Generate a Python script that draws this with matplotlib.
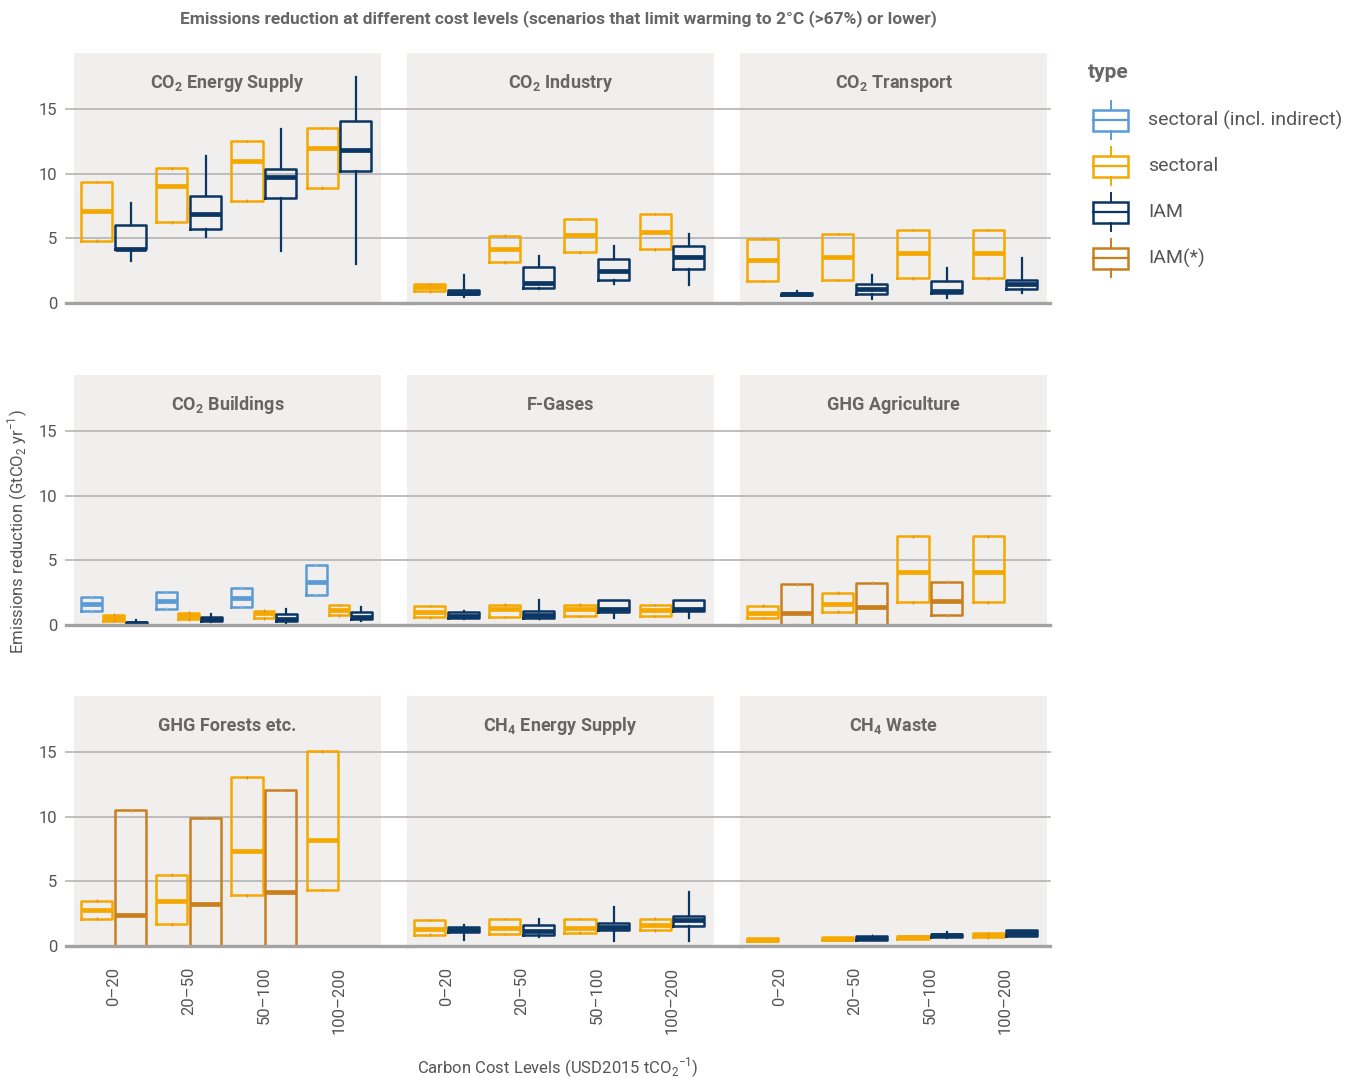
import matplotlib
matplotlib.use("Agg")
import matplotlib.pyplot as plt
from matplotlib import font_manager
from matplotlib.patches import Rectangle

# pick a condensed-ish font if one is installed
available = {f.name for f in font_manager.fontManager.ttflist}
FONT = next((f for f in ["Liberation Sans Narrow", "Roboto", "Open Sans"] if f in available), "DejaVu Sans")
plt.rcParams["font.family"] = [FONT, "DejaVu Sans"]
plt.rcParams["mathtext.fontset"] = "custom"
plt.rcParams["mathtext.rm"] = FONT
plt.rcParams["mathtext.bf"] = FONT + ":bold"

COSTS = ["0–20", "20–50", "50–100", "100–200"]
TYPES = ["sectoral (incl. indirect)", "sectoral", "IAM", "IAM(*)"]
COLORS = {"sectoral (incl. indirect)": "#5b9bd5", "sectoral": "#f5a800",
          "IAM": "#0b3562", "IAM(*)": "#c97f1e"}
TICK_COLORS = {"sectoral (incl. indirect)": "#9cc2e6", "sectoral": "#ee7f2d",
               "IAM": "#0b3562", "IAM(*)": "#e0a050"}

# each entry per cost level: [whisker low, q1, median, q3, whisker high]; None = no data
energy_sect = [[4.82, 4.82, 7.14, 9.38, 9.38], [6.24, 6.24, 9.05, 10.42, 10.42],
               [7.92, 7.92, 11.0, 12.55, 12.55], [8.92, 8.92, 12.0, 13.56, 13.56]]
energy_iam = [[3.25, 4.15, 4.2, 6.03, 7.71], [5.13, 5.7, 6.88, 8.28, 11.4],
              [4.02, 8.1, 9.77, 10.36, 13.5], [3.04, 10.23, 11.88, 14.08, 17.5]]

industry_sect = [[0.9, 0.9, 1.21, 1.47, 1.47], [3.14, 3.14, 4.18, 5.21, 5.21],
                 [3.92, 3.92, 5.23, 6.5, 6.5], [4.15, 4.15, 5.51, 6.88, 6.88]]
industry_iam = [[0.46, 0.67, 0.8, 1.03, 2.19], [1.06, 1.16, 1.57, 2.78, 3.63],
                [1.47, 1.8, 2.47, 3.43, 4.43], [1.37, 2.65, 3.58, 4.43, 5.36]]

transport_sect = [[1.7, 1.7, 3.33, 4.95, 4.95], [1.78, 1.78, 3.58, 5.34, 5.34],
                  [1.91, 1.91, 3.84, 5.65, 5.65], [1.91, 1.91, 3.84, 5.65, 5.65]]
transport_iam = [[0.6, 0.62, 0.7, 0.8, 0.95], [0.29, 0.67, 1.1, 1.47, 2.19],
                 [0.41, 0.75, 0.95, 1.73, 2.7], [0.75, 1.11, 1.45, 1.78, 3.48]]

buildings_incl = [[1.06, 1.06, 1.6, 2.14, 2.14], [1.27, 1.27, 1.88, 2.56, 2.56],
                  [1.42, 1.42, 2.12, 2.89, 2.89], [2.3, 2.3, 3.31, 4.63, 4.63]]
buildings_sect = [[0.33, 0.33, 0.57, 0.8, 0.8], [0.44, 0.44, 0.7, 0.95, 0.95],
                  [0.52, 0.52, 0.9, 1.11, 1.11], [0.75, 0.75, 1.16, 1.55, 1.55]]
buildings_iam = [[0.05, 0.08, 0.15, 0.26, 0.4], [0.26, 0.33, 0.5, 0.64, 0.83],
                 [0.13, 0.33, 0.5, 0.83, 1.22], [0.31, 0.49, 0.64, 1.0, 1.42]]

fgas_sect = [[0.59, 0.59, 1.03, 1.47, 1.47], [0.62, 0.62, 1.21, 1.57, 1.57],
             [0.7, 0.7, 1.27, 1.57, 1.57], [0.7, 0.7, 1.16, 1.55, 1.55]]
fgas_iam = [[0.44, 0.52, 0.7, 0.98, 1.1], [0.52, 0.52, 0.78, 1.11, 1.94],
            [0.52, 1.0, 1.24, 1.94, 1.94], [0.52, 1.06, 1.24, 1.94, 1.94]]

agri_sect = [[0.54, 0.54, 0.93, 1.5, 1.5], [1.03, 1.03, 1.63, 2.5, 2.5],
             [1.76, 1.76, 4.13, 6.87, 6.87], [1.76, 1.76, 4.13, 6.87, 6.87]]
agri_iam_star = [[0.02, 0.02, 0.96, 3.15, 3.15], [0.0, 0.0, 1.37, 3.28, 3.28],
                 [0.75, 0.75, 1.88, 3.36, 3.36], None]

forest_sect = [[2.12, 2.12, 2.79, 3.51, 3.51], [1.68, 1.68, 3.49, 5.53, 5.53],
               [3.93, 3.93, 7.36, 13.05, 13.05], [4.32, 4.32, 8.24, 15.06, 15.06]]
forest_iam_star = [[0.0, 0.0, 2.38, 10.49, 10.49], [0.0, 0.0, 3.28, 9.9, 9.9],
                   [0.0, 0.0, 4.19, 12.09, 12.09], None]

ch4_energy_sect = [[0.88, 0.88, 1.34, 2.02, 2.02], [0.93, 0.93, 1.4, 2.09, 2.09],
                   [1.03, 1.03, 1.42, 2.09, 2.09], [1.22, 1.22, 1.63, 2.12, 2.12]]
ch4_energy_iam = [[0.47, 1.09, 1.24, 1.5, 1.6], [0.72, 0.83, 1.14, 1.63, 2.07],
                  [0.41, 1.24, 1.5, 1.81, 3.02], [0.36, 1.55, 2.02, 2.35, 4.19]]

ch4_waste_sect = [[0.39, 0.39, 0.5, 0.6, 0.6], [0.46, 0.46, 0.56, 0.67, 0.67],
                  [0.54, 0.54, 0.66, 0.77, 0.77], [0.67, 0.67, 0.82, 0.98, 0.98]]
ch4_waste_iam = [None, [0.47, 0.47, 0.62, 0.8, 0.8],
                 [0.65, 0.7, 0.82, 0.95, 1.05], [0.78, 0.8, 1.0, 1.22, 1.25]]

PANELS = [
    (r"CO$_\mathbf{2}$ Energy Supply", {"sectoral": energy_sect, "IAM": energy_iam}),
    (r"CO$_\mathbf{2}$ Industry", {"sectoral": industry_sect, "IAM": industry_iam}),
    (r"CO$_\mathbf{2}$ Transport", {"sectoral": transport_sect, "IAM": transport_iam}),
    (r"CO$_\mathbf{2}$ Buildings", {"sectoral (incl. indirect)": buildings_incl,
                                    "sectoral": buildings_sect, "IAM": buildings_iam}),
    ("F-Gases", {"sectoral": fgas_sect, "IAM": fgas_iam}),
    ("GHG Agriculture", {"sectoral": agri_sect, "IAM(*)": agri_iam_star}),
    ("GHG Forests etc.", {"sectoral": forest_sect, "IAM(*)": forest_iam_star}),
    (r"CH$_\mathbf{4}$ Energy Supply", {"sectoral": ch4_energy_sect, "IAM": ch4_energy_iam}),
    (r"CH$_\mathbf{4}$ Waste", {"sectoral": ch4_waste_sect, "IAM": ch4_waste_iam}),
]

W, H = 1347, 1078
COL_LEFT = [74, 407, 740]
ROW_BOTTOM = [303, 625, 946]
PW, PH = 307, 250
YMAX = 19.35
BG = "#f0efed"
GRID = "#b4b4b4"
TXT = "#666666"


def draw_panel(ax, groups):
    present = [t for t in TYPES if t in groups]
    slot = 0.9 / len(present)
    for j, t in enumerate(present):
        c = COLORS[t]
        off = -0.45 + slot * (j + 0.5)
        stats, pos = [], []
        for i, s in enumerate(groups[t]):
            if s is None:
                continue
            lo, q1, med, q3, hi = s
            stats.append(dict(whislo=lo, q1=q1, med=med, q3=q3, whishi=hi, fliers=[]))
            pos.append(i + 1 + off)
        ax.bxp(stats, positions=pos, widths=slot * 0.92, showcaps=False, showfliers=False,
               manage_ticks=False,
               boxprops=dict(color=c, linewidth=1.8),
               medianprops=dict(color=c, linewidth=3.4, solid_capstyle="butt"),
               whiskerprops=dict(color=c, linewidth=1.6))
        # tiny marks at box edges where there are no whiskers
        for p, st in zip(pos, stats):
            if st["whislo"] == st["q1"] and st["q3"] > st["q1"] + 0.3:
                for yv in (st["q1"], st["q3"]):
                    ax.vlines(p, yv - 0.1, yv + 0.1, color=TICK_COLORS[t], lw=0.9, zorder=3)


fig = plt.figure(figsize=(W / 100, H / 100), dpi=100)

for k, (title, groups) in enumerate(PANELS):
    r, c = divmod(k, 3)
    ax = fig.add_axes([COL_LEFT[c] / W, (H - ROW_BOTTOM[r]) / H, PW / W, PH / H])
    ax.set_facecolor(BG)
    for sp in ax.spines.values():
        sp.set_visible(False)
    ax.set_xlim(0.47, 4.56)
    ax.set_ylim(0, YMAX)

    tr = ax.get_yaxis_transform()
    x0 = -0.025 if c == 0 else 0.0
    x1 = 1.088 if c < 2 else 1.01
    for yv in (5, 10, 15):
        ax.plot([x0, x1], [yv, yv], transform=tr, color=GRID, lw=1.2, clip_on=False, zorder=0.5)
    ax.plot([x0, x1], [0, 0], transform=tr, color="#a3a3a3", lw=2.4, clip_on=False, zorder=4)

    draw_panel(ax, groups)

    ax.text(0.5, 0.88, title, transform=ax.transAxes, ha="center", va="center",
            fontsize=13, fontweight="bold", color=TXT)

    ax.set_yticks([0, 5, 10, 15])
    if c == 0:
        ax.set_yticklabels(["0", "5", "10", "15"])
        ax.tick_params(axis="y", length=0, pad=12, labelsize=12, labelcolor="#555555")
    else:
        ax.tick_params(axis="y", length=0, labelleft=False)

    ax.set_xticks(range(1, 5))
    if r == 2:
        ax.set_xticklabels(COSTS, rotation=90, va="top", ha="center")
        ax.tick_params(axis="x", length=0, pad=15, labelsize=12, labelcolor="#555555")
    else:
        ax.tick_params(axis="x", length=0, labelbottom=False)

fig.text(558 / W, 1 - 19 / H, "Emissions reduction at different cost levels "
         "(scenarios that limit warming to 2°C (>67%) or lower)",
         ha="center", va="center", fontsize=12.5, fontweight="bold", color=TXT)
fig.text(558 / W, 1 - 1068 / H, r"Carbon Cost Levels (USD2015 tCO$_2$$^{-1}$)",
         ha="center", va="center", fontsize=12, color="#555555")
fig.text(18 / W, 1 - 532 / H, r"Emissions reduction (GtCO$_2$ yr$^{-1}$)",
         ha="center", va="center", rotation=90, fontsize=12, color="#555555")

# legend drawn on an overlay in pixel coordinates
leg = fig.add_axes([0, 0, 1, 1], zorder=-1)
leg.set_xlim(0, W)
leg.set_ylim(H, 0)
leg.axis("off")
leg.text(1088, 73, "type", ha="left", va="center", fontsize=15, fontweight="bold", color=TXT)
for i, t in enumerate(TYPES):
    yc = 120 + 46 * i
    col = COLORS[t]
    leg.add_patch(Rectangle((1093, yc - 10.5), 35, 21, fill=False, edgecolor=col, lw=1.8))
    leg.plot([1093, 1128], [yc, yc], color=col, lw=1.6)
    leg.plot([1110.5, 1110.5], [yc - 19, yc - 10.5], color=col, lw=1.4)
    leg.plot([1110.5, 1110.5], [yc + 10.5, yc + 19], color=col, lw=1.4)
    leg.text(1148, yc, t, ha="left", va="center", fontsize=14, color="#555555")

fig.savefig("out.png", dpi=100)
